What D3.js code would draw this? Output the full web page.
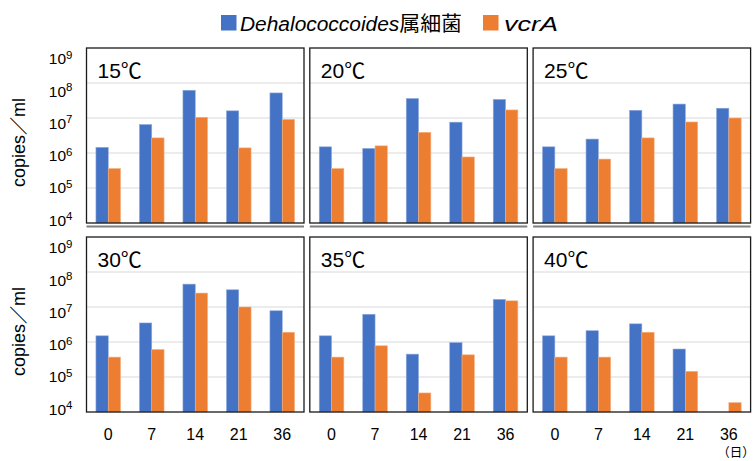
<!DOCTYPE html>
<html>
<head>
<meta charset="utf-8">
<script src="https://cdn.jsdelivr.net/npm/d3@7"></script>
<style>
  html, body { margin: 0; padding: 0; background: #fff; }
  svg { display: block; font-family: "Liberation Sans", Arial, "Noto Sans CJK JP", sans-serif; }
</style>
</head>
<body>
<svg id="chart" width="755" height="461"></svg>
<script>
// Sampling days (x categories)
const days = ["0", "7", "14", "21", "36"];
// Incubation temperatures, one panel each
const temps = ["15℃", "20℃", "25℃", "30℃", "35℃", "40℃"];
// y-axis decades (powers of ten)
const decades = [9, 8, 7, 6, 5, 4];

// copies/ml — Dehalococcoides genus bacteria
const dhc15 = [1.45e6, 6.5e6, 6.2e7, 1.6e7, 5.2e7];
const dhc20 = [1.5e6, 1.35e6, 3.6e7, 7.6e6, 3.4e7];
const dhc25 = [1.5e6, 2.5e6, 1.66e7, 2.5e7, 1.9e7];
const dhc30 = [1.5e6, 3.5e6, 4.5e7, 3.1e7, 7.8e6];
const dhc35 = [1.5e6, 6.2e6, 4.5e5, 9.6e5, 1.65e7];
const dhc40 = [1.5e6, 2.1e6, 3.3e6, 6.3e5, null];

// copies/ml — vcrA gene
const vcr15 = [3.6e5, 2.7e6, 1.05e7, 1.4e6, 9.1e6];
const vcr20 = [3.6e5, 1.6e6, 3.9e6, 7.7e5, 1.7e7];
const vcr25 = [3.6e5, 6.7e5, 2.7e6, 7.7e6, 1.0e7];
const vcr30 = [3.7e5, 6.1e5, 2.5e7, 1.0e7, 1.9e6];
const vcr35 = [3.7e5, 7.8e5, 3.5e4, 4.3e5, 1.5e7];
const vcr40 = [3.7e5, 3.7e5, 1.9e6, 1.45e5, 1.85e4];

const dhcAll = [dhc15, dhc20, dhc25, dhc30, dhc35, dhc40];
const vcrAll = [vcr15, vcr20, vcr25, vcr30, vcr35, vcr40];

const BLUE = "#4472C4", ORANGE = "#ED7D31";
const svg = d3.select("#chart");

// panel geometry
const colX = [86.5, 309.8, 533.1];
const rowY = [48, 237];
const pw = 217.5, ph = 175;

const y = d3.scaleLog().domain([1e4, 1e9]).range([ph, 0]);
const x = d3.scaleBand().domain(days).range([0, pw]).paddingInner(0.434).paddingOuter(0.217);
const xs = d3.scaleBand().domain(["dhc", "vcr"]).range([0, x.bandwidth()]);
const labelY = d3.scaleLinear().domain([9, 4]).range([16.3, 177.7]);

temps.forEach((t, i) => {
  const row = Math.floor(i / 3), col = i % 3;
  const g = svg.append("g").attr("transform", `translate(${colX[col]},${rowY[row]})`);

  // horizontal gridlines
  g.selectAll("line.grid").data(decades.slice(1, 5)).enter().append("line")
    .attr("x1", 0).attr("x2", pw)
    .attr("y1", d => y(Math.pow(10, d))).attr("y2", d => y(Math.pow(10, d)))
    .attr("stroke", "#D9D9D9").attr("stroke-width", 1);

  const rows = days.map((d, k) => ({ day: d, dhc: dhcAll[i][k], vcr: vcrAll[i][k] }));
  const grp = g.selectAll("g.day").data(rows).enter().append("g")
    .attr("transform", d => `translate(${x(d.day)},0)`);

  grp.filter(d => d.dhc != null).append("rect")
    .attr("x", xs("dhc")).attr("width", xs.bandwidth())
    .attr("y", d => y(d.dhc)).attr("height", d => ph - y(d.dhc))
    .attr("fill", BLUE).attr("stroke", "#8FAADC").attr("stroke-width", 0.6);
  grp.filter(d => d.vcr != null).append("rect")
    .attr("x", xs("vcr")).attr("width", xs.bandwidth())
    .attr("y", d => y(d.vcr)).attr("height", d => ph - y(d.vcr))
    .attr("fill", ORANGE).attr("stroke", "#F4B183").attr("stroke-width", 0.6);

  // panel frame
  g.append("rect").attr("x", 0).attr("y", 0).attr("width", pw).attr("height", ph)
    .attr("fill", "none").attr("stroke", "#1a1a1a").attr("stroke-width", 1.3);

  if (row === 0) {
    g.append("line").attr("x1", 0).attr("x2", pw).attr("y1", ph + 3.5).attr("y2", ph + 3.5)
      .attr("stroke", "#7f7f7f").attr("stroke-width", 2);
  }

  // temperature label
  g.append("text").attr("x", 11).attr("y", 29.5)
    .attr("font-size", 21).attr("fill", "#000").text(t);

  // y-axis decade labels on the first column
  if (col === 0) {
    const lab = g.selectAll("text.ytick").data(decades).enter().append("text")
      .attr("x", -14).attr("y", d => labelY(d))
      .attr("text-anchor", "end").attr("font-size", 15.5).attr("fill", "#000");
    lab.append("tspan").text("10");
    lab.append("tspan").attr("font-size", 11.5).attr("dy", -5.5).text(d => d);

    g.append("text")
      .attr("transform", `translate(${-61.5},${ph / 2 + 7}) rotate(-90)`)
      .attr("text-anchor", "middle").attr("font-size", 18).attr("fill", "#000")
      .text("copies／ml");
  }

  // day labels under the bottom row
  if (row === 1) {
    g.selectAll("text.xtick").data(days).enter().append("text")
      .attr("x", d => x(d) + x.bandwidth() / 2).attr("y", ph + 28)
      .attr("text-anchor", "middle").attr("font-size", 16).attr("fill", "#000")
      .text(d => d);
  }
});

// unit of x axis
svg.append("text").attr("x", 736).attr("y", 457).attr("text-anchor", "middle")
  .attr("font-size", 12.5).attr("fill", "#000").text("（日）");

// legend
const leg = svg.append("g");
leg.append("rect").attr("x", 221).attr("y", 15).attr("width", 15.5).attr("height", 15.5).attr("fill", BLUE);
const t1 = leg.append("text").attr("x", 240).attr("y", 30.5).attr("font-size", 20).attr("fill", "#000")
  .attr("textLength", 222).attr("lengthAdjust", "spacingAndGlyphs");
t1.append("tspan").attr("font-style", "italic").text("Dehalococcoides");
t1.append("tspan").text("属細菌");
leg.append("rect").attr("x", 483).attr("y", 15).attr("width", 15.5).attr("height", 15.5).attr("fill", ORANGE);
leg.append("text").attr("x", 504).attr("y", 30.5).attr("font-size", 21).attr("font-style", "italic")
  .attr("fill", "#000").attr("textLength", 54).attr("lengthAdjust", "spacingAndGlyphs").text("vcrA");
</script>
</body>
</html>
